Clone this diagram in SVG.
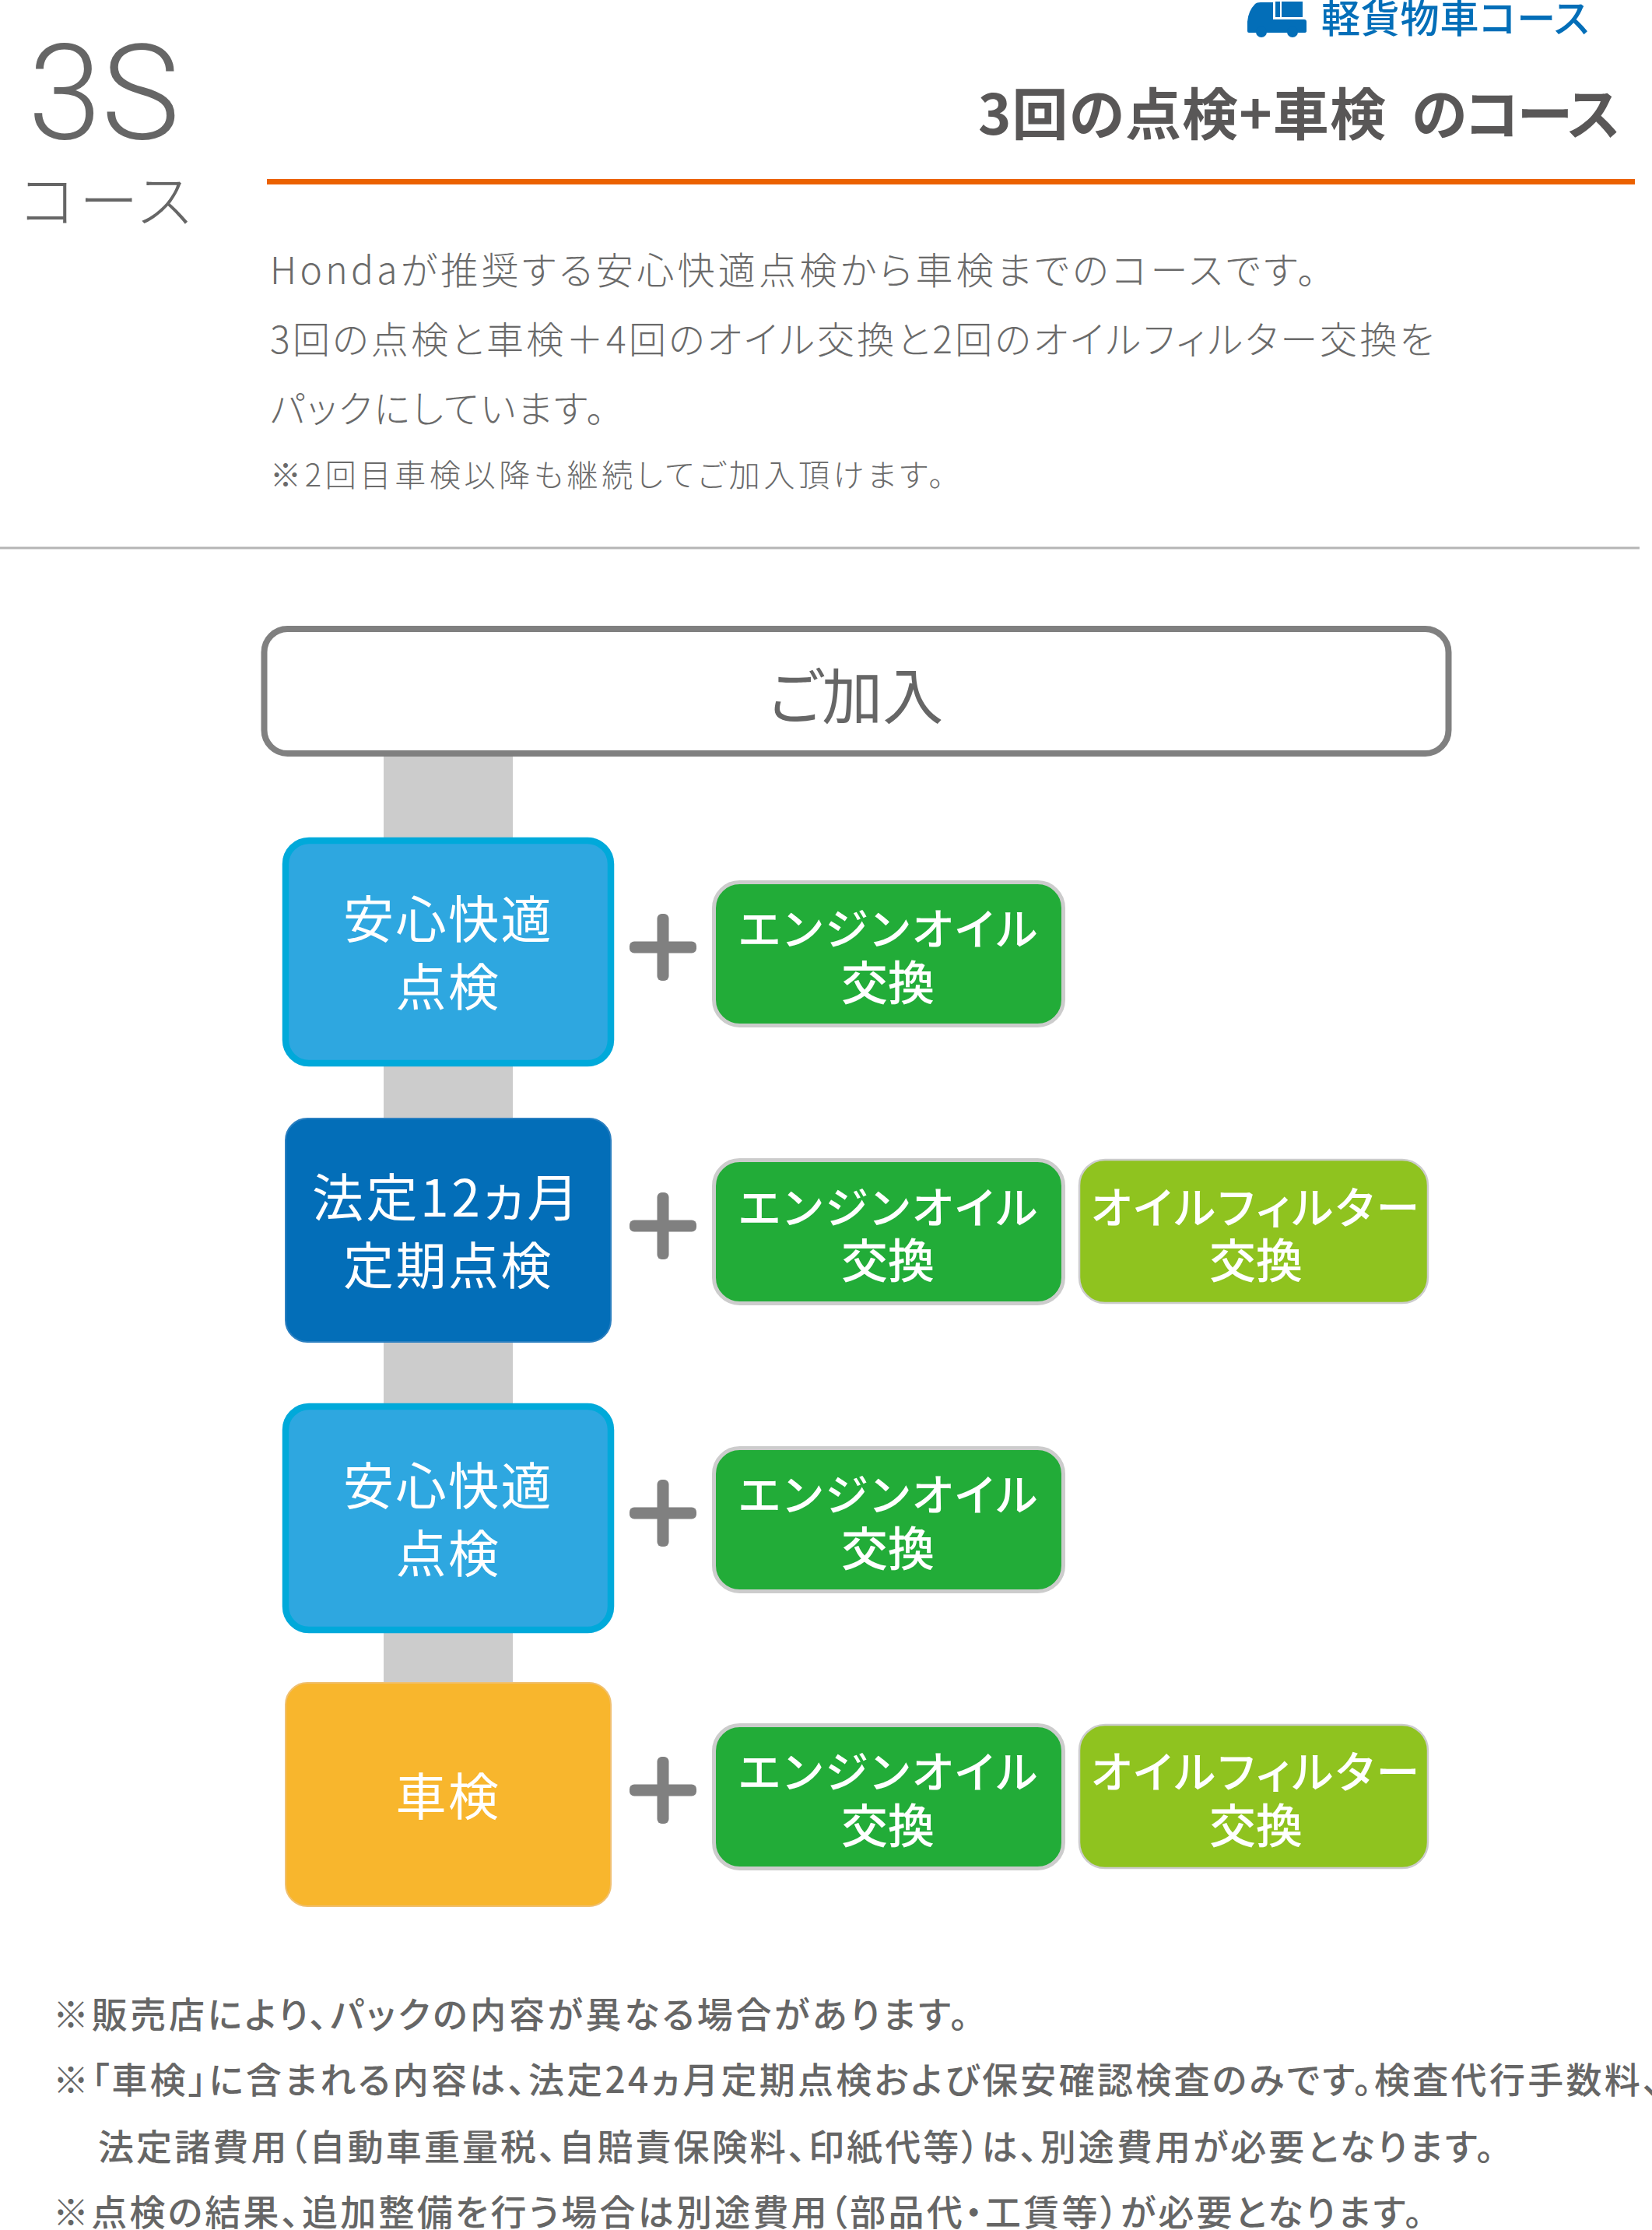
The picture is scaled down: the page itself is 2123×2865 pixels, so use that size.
<svg xmlns="http://www.w3.org/2000/svg" width="2123" height="2865" viewBox="0 0 2123 2865">
<style>
text{font-family:"Noto Sans CJK JP","Noto Sans",sans-serif;font-feature-settings:"palt"}
.big{fill:#fff;font-size:65px;text-anchor:middle;letter-spacing:2.500px;font-weight:400}
.sub{fill:#fff;font-size:56px;text-anchor:middle;font-weight:500}
.sub2{fill:#fff;font-size:60px;text-anchor:middle;font-weight:500}
.body{fill:#6a6a6a;font-weight:300}
.foot{fill:#666;font-size:46px;font-weight:500}
.plus{fill:#808080}
.oil{fill:#22ac38;stroke:#ccc;stroke-width:5}
.flt{fill:#8fc31f;stroke:#ccc;stroke-width:2.5}
.blue{fill:#2ea7e0;stroke:#00a9da;stroke-width:8.5}
</style>
<defs>
<g id="p"><rect x="-43" y="-7.5" width="86" height="15" rx="6"/><rect x="-7.5" y="-43" width="15" height="86" rx="6"/></g>
</defs>
<rect width="2123" height="2865" fill="#fff"/>
<g id="header">
<path fill="#036eb8" d="M1603 40V28Q1604 14 1613 5Q1615 3 1620 3H1636V25H1676Q1679 25 1679 28V40Q1679 42 1676 42H1605Q1603 42 1603 40Z"/>
<circle cx="1621" cy="41" r="7" fill="#036eb8"/><circle cx="1661" cy="41" r="7" fill="#036eb8"/>
<path fill="#036eb8" d="M1639 2H1645V22H1639ZM1647 2H1674V22H1647Z"/>
<text x="1698" y="42" font-size="50" font-weight="500" fill="#036eb8" textLength="344">軽貨物車コース</text>
<text x="36" y="178" font-size="170" fill="#666" style="font-family:Roboto,sans-serif;font-weight:300">3S</text>
<text x="26" y="286" font-size="76" fill="#666" font-weight="300" textLength="220">コース</text>
<text x="1257" y="173" font-size="72" font-weight="700" fill="#595757" textLength="524">3回の点検+車検</text>
<text x="1814" y="173" font-size="72" font-weight="700" fill="#595757" textLength="268">のコース</text>
<rect x="343" y="230" width="1758" height="7" fill="#eb6100"/>
<text class="body" x="347" y="365" font-size="48" textLength="1344">Hondaが推奨する安心快適点検から車検までのコースです。</text>
<text class="body" x="347" y="454" font-size="48" textLength="1496">3回の点検と車検＋4回のオイル交換と2回のオイルフィルター交換を</text>
<text class="body" x="347" y="543" font-size="48" textLength="430">パックにしています。</text>
<text class="body" x="347" y="625" font-size="40" textLength="866">※2回目車検以降も継続してご加入頂けます。</text>
<rect x="0" y="702.500" width="2107" height="3" fill="#b5b5b5"/>
</g>
<g id="connectors">
<rect x="493" y="971" width="166" height="1195" fill="#ccc"/>
</g>
<g id="start">
<rect x="339.500" y="808" width="1522" height="160" rx="30" fill="#fff" stroke="#808080" stroke-width="8"/>
<text x="1100" y="924" font-size="78" text-anchor="middle" fill="#666" font-weight="400">ご加入</text>
</g>
<g id="row1-main"><rect class="blue" x="367" y="1080" width="418" height="286" rx="30"/>
<text class="big" x="576" y="1205">安心快適</text><text class="big" x="576" y="1292">点検</text></g>
<g id="row2-main"><rect x="367" y="1437" width="418" height="287" rx="28" fill="#036eb8" stroke="#2b7fc0" stroke-width="2"/>
<text class="big" x="574" y="1563" style="font-size:66px;letter-spacing:3.500px">法定12ヵ月</text><text class="big" x="576" y="1650">定期点検</text></g>
<g id="row3-main"><rect class="blue" x="367" y="1807" width="418" height="287" rx="30"/>
<text class="big" x="576" y="1933">安心快適</text><text class="big" x="576" y="2020">点検</text></g>
<g id="row4-main"><rect x="367" y="2162" width="418" height="287" rx="28" fill="#f8b62d" stroke="#f0c070" stroke-width="2"/>
<text class="big" x="576" y="2332">車検</text></g>
<g id="plus-signs" class="plus">
<use href="#p" x="852" y="1217"/><use href="#p" x="852" y="1575"/><use href="#p" x="852" y="1944"/><use href="#p" x="852" y="2300"/>
</g>
<g id="row1-oil"><rect class="oil" x="917.500" y="1133.500" width="449" height="184" rx="33"/>
<text class="sub" x="1141" y="1214" textLength="384">エンジンオイル</text><text class="sub2" x="1141" y="1285">交換</text></g>
<g id="row2-oil"><rect class="oil" x="917.500" y="1490.500" width="449" height="184" rx="33"/>
<text class="sub" x="1141" y="1572" textLength="384">エンジンオイル</text><text class="sub2" x="1141" y="1642">交換</text></g>
<g id="row2-filter"><rect class="flt" x="1387" y="1490" width="448" height="184" rx="33"/>
<text class="sub" x="1613" y="1572" textLength="422">オイルフィルター</text><text class="sub2" x="1614" y="1642">交換</text></g>
<g id="row3-oil"><rect class="oil" x="917.500" y="1860.500" width="449" height="184" rx="33"/>
<text class="sub" x="1141" y="1941" textLength="384">エンジンオイル</text><text class="sub2" x="1141" y="2012">交換</text></g>
<g id="row4-oil"><rect class="oil" x="917.500" y="2216.500" width="449" height="184" rx="33"/>
<text class="sub" x="1141" y="2297" textLength="384">エンジンオイル</text><text class="sub2" x="1141" y="2368">交換</text></g>
<g id="row4-filter"><rect class="flt" x="1387" y="2216" width="448" height="184" rx="33"/>
<text class="sub" x="1613" y="2297" textLength="422">オイルフィルター</text><text class="sub2" x="1614" y="2368">交換</text></g>
<g id="footnotes">
<text class="foot" x="68" y="2605" textLength="1176">※販売店により、パックの内容が異なる場合があります。</text>
<text class="foot" x="68" y="2689" textLength="2066">※「車検」に含まれる内容は、法定24ヵ月定期点検および保安確認検査のみです。検査代行手数料、</text>
<text class="foot" x="126" y="2775" textLength="1794">法定諸費用（自動車重量税、自賠責保険料、印紙代等）は、別途費用が必要となります。</text>
<text class="foot" x="68" y="2859" textLength="1760">※点検の結果、追加整備を行う場合は別途費用（部品代・工賃等）が必要となります。</text>
</g>
</svg>
